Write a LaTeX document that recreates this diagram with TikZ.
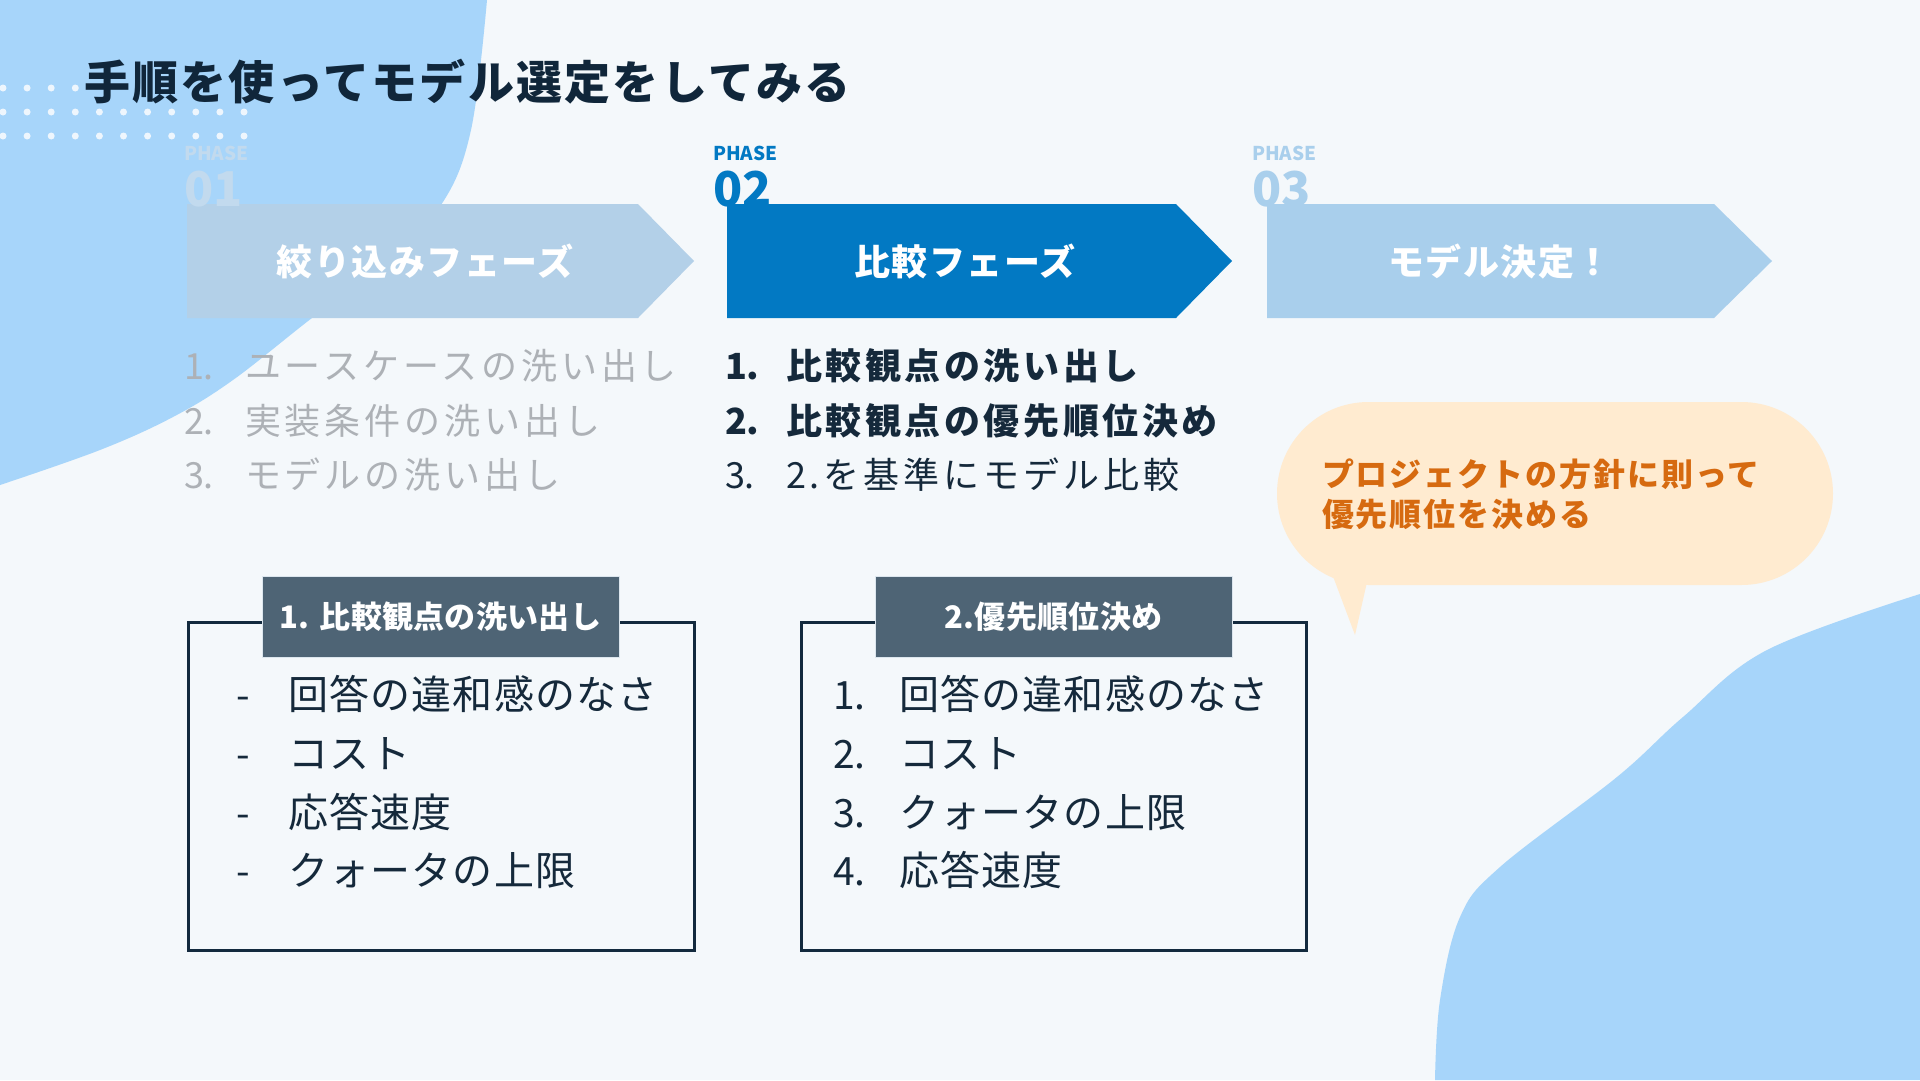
\documentclass[tikz,border=0pt]{standalone}
\usepackage{fontspec}
\setmainfont{Noto Sans CJK JP}
\definecolor{bgc}{HTML}{F4F8FB}
\definecolor{blobc}{HTML}{A7D5FA}
\definecolor{dotc}{HTML}{EEF6FD}
\definecolor{titlec}{HTML}{10263A}
\definecolor{arrAc}{HTML}{B3D0E8}
\definecolor{arrBc}{HTML}{0279C3}
\definecolor{arrCc}{HTML}{A9CFEC}
\definecolor{ph1c}{HTML}{C2DAEE}
\definecolor{greyc}{HTML}{ADB1B6}
\definecolor{darkc}{HTML}{15293B}
\definecolor{boxc}{HTML}{132A3E}
\definecolor{hdrc}{HTML}{4E6475}
\definecolor{hdrln}{HTML}{DCE6EE}
\definecolor{calloutc}{HTML}{FFEBD0}
\definecolor{callouttxt}{HTML}{D66A10}
\tikzset{
  txt/.style={anchor=base west, inner sep=0pt, outer sep=0pt},
  ttl/.style={txt, text=titlec, font=\fontsize{46}{54}\bfseries\addfontfeatures{LetterSpace=5}},
  arrtxt/.style={anchor=base, inner sep=0pt, text=white, font=\fontsize{36}{42}\bfseries\addfontfeatures{LetterSpace=4}},
  phl/.style={txt, font=\fontsize{19}{24}\bfseries},
  phn/.style={txt, font=\fontsize{48}{58}\bfseries},
  num/.style={txt, font=\fontsize{36}{42}\selectfont},
  numb/.style={txt, font=\fontsize{36}{42}\bfseries},
  lst/.style={txt, font=\fontsize{36}{42}\selectfont\addfontfeatures{LetterSpace=11}},
  lstb/.style={txt, font=\fontsize{36}{42}\bfseries\addfontfeatures{LetterSpace=10}},
  itmn/.style={txt, text=darkc, font=\fontsize{39}{46}\selectfont},
  itm/.style={txt, text=darkc, font=\fontsize{40}{46}\selectfont\addfontfeatures{LetterSpace=3}},
  hdr/.style={fill=hdrc, draw=hdrln, line width=1pt, minimum width=357pt, minimum height=81pt, inner sep=0pt, text=white, font=\fontsize{31}{36}\bfseries\addfontfeatures{LetterSpace=1}},
  boxln/.style={draw=boxc, line width=3pt},
  cotxt/.style={txt, text=callouttxt, font=\fontsize{32}{38}\bfseries\addfontfeatures{LetterSpace=6}},
}
\begin{document}
\begin{tikzpicture}[x=1pt,y=-1pt]
\useasboundingbox (0,0) rectangle (1920,1080);
\fill[bgc] (0,0) rectangle (1920,1080);
% background blobs
\fill[blobc] plot[smooth, tension=0.6] coordinates {(487,0) (471,130) (441,205) (380,268) (312,318) (233,380) (173,417) (100,450) (0,485)} -- (0,0) -- cycle;
\fill[blobc] plot[smooth, tension=0.6] coordinates {(1920,594) (1767,650) (1683,717) (1617,777) (1500,867) (1460,917) (1440,1000) (1435,1080)} -- (1920,1080) -- cycle;
% dots
\foreach \i in {0,...,3} \fill[dotc] (3+24.1*\i,88) circle[radius=3.5pt];
\foreach \r in {112,136} \foreach \i in {0,...,10} \fill[dotc] (3+24.1*\i,\r) circle[radius=3.5pt];
% title
\node[ttl] (title) at (84,99) {手順を使ってモデル選定をしてみる};
% phase arrows
\fill[arrAc] (187,204) -- (638,204) -- (694,261) -- (638,318) -- (187,318) -- cycle;
\fill[arrBc] (727,204) -- (1176,204) -- (1232,261) -- (1176,318) -- (727,318) -- cycle;
\fill[arrCc] (1267,204) -- (1714,204) -- (1772,261) -- (1714,318) -- (1267,318) -- cycle;
\node[arrtxt] (a1) at (425,275) {絞り込みフェーズ};
\node[arrtxt] (a2) at (965,275) {比較フェーズ};
\node[arrtxt] (a3) at (1500,275) {モデル決定！};
% phase labels
\node[phl, text=ph1c] (p1l) at (184,160) {PHASE};
\node[phn, text=ph1c] (p1n) at (184,206) {01};
\node[phl, text=arrBc] (p2l) at (713,160) {PHASE};
\node[phn, text=arrBc] (p2n) at (713,206) {02};
\node[phl, text=arrCc] (p3l) at (1252,160) {PHASE};
\node[phn, text=arrCc] (p3n) at (1252,206) {03};
% phase 1 list
\node[num, text=greyc] (l1n1) at (184,379) {1.};
\node[lst, text=greyc] (l1t1) at (245,379) {ユースケースの洗い出し};
\node[num, text=greyc] (l1n2) at (184,434) {2.};
\node[lst, text=greyc] (l1t2) at (245,434) {実装条件の洗い出し};
\node[num, text=greyc] (l1n3) at (184,488) {3.};
\node[lst, text=greyc] (l1t3) at (245,488) {モデルの洗い出し};
% phase 2 list
\node[numb, text=darkc] (l2n1) at (725,379) {1.};
\node[lstb, text=darkc] (l2t1) at (786,379) {比較観点の洗い出し};
\node[numb, text=darkc] (l2n2) at (725,434) {2.};
\node[lstb, text=darkc] (l2t2) at (786,434) {比較観点の優先順位決め};
\node[num, text=darkc] (l2n3) at (725,488) {3.};
\node[lst, text=darkc] (l2t3) at (786,488) {2.を基準にモデル比較};
% callout
\fill[calloutc] (1325,555) -- (1355,635) -- (1372,560) -- cycle;
\fill[calloutc, rounded corners=91.5pt] (1277,402) rectangle (1833,585);
\node[cotxt] (co1) at (1322,486) {プロジェクトの方針に則って};
\node[cotxt] (co2) at (1322,526) {優先順位を決める};
% box 1
\draw[boxln] (188,622) rectangle (694,950);
\node[hdr] (h1) at (440.5,616.5) {1. 比較観点の洗い出し};
\node[itmn] (b1d1) at (236,709) {-};
\node[itm] (b1t1) at (288,709) {回答の違和感のなさ};
\node[itmn] (b1d2) at (236,768) {-};
\node[itm] (b1t2) at (288,768) {コスト};
\node[itmn] (b1d3) at (236,827) {-};
\node[itm] (b1t3) at (288,827) {応答速度};
\node[itmn] (b1d4) at (236,885) {-};
\node[itm] (b1t4) at (288,885) {クォータの上限};
% box 2
\draw[boxln] (801,622) rectangle (1306,950);
\node[hdr] (h2) at (1053.5,616.5) {2.優先順位決め};
\node[itmn] (b2n1) at (833,709) {1.};
\node[itm] (b2t1) at (899,709) {回答の違和感のなさ};
\node[itmn] (b2n2) at (833,768) {2.};
\node[itm] (b2t2) at (899,768) {コスト};
\node[itmn] (b2n3) at (833,827) {3.};
\node[itm] (b2t3) at (899,827) {クォータの上限};
\node[itmn] (b2n4) at (833,885) {4.};
\node[itm] (b2t4) at (899,885) {応答速度};
\end{tikzpicture}
\end{document}
